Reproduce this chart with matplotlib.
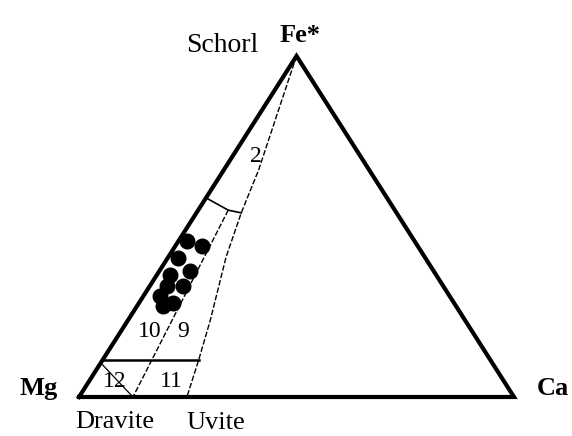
import numpy as np
import matplotlib
matplotlib.use('Agg')
import matplotlib.pyplot as plt

plt.rcParams['font.family'] = ['Liberation Serif', 'DejaVu Serif']

# sample compositions, fractions of Ca and Fe* (Mg = rest)
ca = [0.020, 0.062, 0.024, 0.071, 0.031, 0.040, 0.077, 0.038, 0.079, 0.060]
fe = [0.458, 0.443, 0.408, 0.370, 0.358, 0.326, 0.326, 0.296, 0.276, 0.267]

# field boundaries (Ca, Fe*)
outer_ca = [0.000, 0.080, 0.103, 0.133, 0.189, 0.221, 0.248]
outer_fe = [1.000, 0.666, 0.540, 0.410, 0.226, 0.108, 0.000]
inner_ca = [0.069, 0.124]
inner_fe = [0.548, 0.000]
box_ca = [0.000, 0.069, 0.103]
box_fe = [0.584, 0.548, 0.540]
low_ca = [0.000, 0.221]
low_fe = [0.108, 0.108]
slash_ca = [0.000, 0.124]
slash_fe = [0.100, 0.000]

fields = ['2', '10', '9', '12', '11']
field_ca = [0.054, 0.066, 0.144, 0.059, 0.190]
field_fe = [0.704, 0.191, 0.191, 0.044, 0.044]


def tern(c, f):
    c = np.asarray(c, float)
    f = np.asarray(f, float)
    return c + f / 2, f


fig = plt.figure(figsize=(5.72, 4.36), dpi=100)
ax = fig.add_axes([79/572, 39/436, 435/572, 341/436])
ax.set_xlim(0, 1)
ax.set_ylim(0, 1)
ax.axis('off')

# triangle
tx, ty = tern([0, 1, 0, 0], [0, 0, 1, 0])
ax.plot(tx, ty, color='black', lw=3, solid_joinstyle='miter', clip_on=False)

dash = (0, (4, 1.5))
x, y = tern(outer_ca, outer_fe)
ax.plot(x, y, color='black', lw=1, ls=dash, clip_on=False)
x, y = tern(inner_ca, inner_fe)
ax.plot(x, y, color='black', lw=1, ls=dash)
x, y = tern(box_ca, box_fe)
ax.plot(x, y, color='black', lw=1.2)
x, y = tern(low_ca, low_fe)
ax.plot(x, y, color='black', lw=1.8)
x, y = tern(slash_ca, slash_fe)
ax.plot(x, y, color='black', lw=0.9)

# data points
x, y = tern(ca, fe)
ax.plot(x, y, 'o', color='black', ms=10.5, clip_on=False)

for lab, c, f in zip(fields, field_ca, field_fe):
    x, y = tern(c, f)
    ax.text(x, y, lab, fontsize=17, ha='center', va='center')

ax.text(0.508, 1.041, 'Fe*', fontsize=19, fontweight='bold', ha='center', va='baseline', clip_on=False)
ax.text(0.330, 1.012, 'Schorl', fontsize=20, ha='center', va='baseline', clip_on=False)
ax.text(-0.048, 0.006, 'Mg', fontsize=19, fontweight='bold', ha='right', va='baseline', clip_on=False)
ax.text(1.053, 0.006, 'Ca', fontsize=19, fontweight='bold', ha='left', va='baseline', clip_on=False)
ax.text(0.083, -0.091, 'Dravite', fontsize=19, ha='center', va='baseline', clip_on=False)
ax.text(0.315, -0.094, 'Uvite', fontsize=19, ha='center', va='baseline', clip_on=False)

fig.savefig('out.png', dpi=100)
plt.close()
